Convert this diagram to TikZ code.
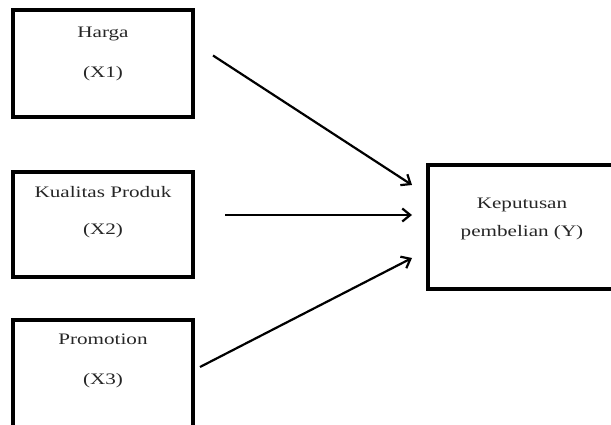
\documentclass[tikz,border=0pt]{standalone}
\usepackage{fontspec}
\setmainfont{Liberation Serif}[FakeStretch=1.32]
\usetikzlibrary{positioning}
\usetikzlibrary{calc}
\usetikzlibrary{arrows.meta}

\tikzset{
  var/.style={draw, line width=3.2pt, anchor=north west, inner sep=0pt, outer sep=0pt, minimum width=180pt},
  lbl/.style={align=center, font=\fontsize{16}{18}\selectfont, text=black!85},
  link/.style={-{Straight Barb[length=8pt,width=13pt,line width=2.2pt]}, line width=2.2pt}
}

\begin{document}
\begin{tikzpicture}[x=1pt,y=-1pt]
  \useasboundingbox (0,0) rectangle (611,425);
  \clip (0,0) rectangle (611,425);
  % boxes
  \node[var, minimum height=107pt] (x1) at (13,10) {};
  \node[var, minimum height=105pt] (x2) at (13,172) {};
  \node[var, minimum height=118pt] (x3) at (13,320) {};
  \node[var, minimum width=192pt, minimum height=124pt] (y) at (428,165) {};
  % texts
  \node[lbl] (t1) at ($(x1.north)+(0,44)$) {Harga\\[22pt](X1)};
  \node[lbl] (t2) at ($(x2.north)+(0,40)$) {Kualitas Produk\\[19pt](X2)};
  \node[lbl] (t3) at ($(x3.north)+(0,41)$) {Promotion\\[22pt](X3)};
  \node[lbl] (ty) at ($(y.north)+(-2,54)$) {Keputusan\\[10pt]pembelian (Y)};
  % arrows
  \coordinate (s1) at ($(x1.east)+(20,-8)$);
  \coordinate (e1) at ($(y.north west)+(-16,20)$);
  \coordinate (s2) at ($(x2.east)+(32,-9.5)$);
  \coordinate (e2) at ($(y.west)+(-16,-12)$);
  \coordinate (s3) at ($(x3.east)+(7,-12)$);
  \coordinate (e3) at ($(y.south west)+(-16,-31)$);
  \draw[link] (s1) -- (e1);
  \draw[link] (s2) -- (e2);
  \draw[link] (s3) -- (e3);
\end{tikzpicture}
\end{document}
